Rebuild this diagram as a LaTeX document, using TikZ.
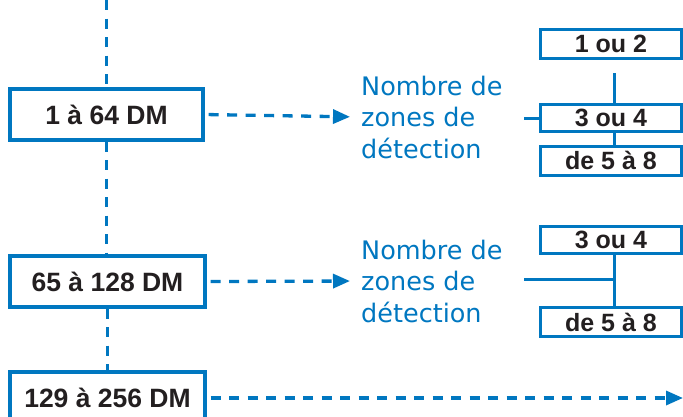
\documentclass[tikz,border=0pt]{standalone}
\usepackage{fontspec}
\setmainfont{Liberation Sans}
\newfontfamily\bluefont{DejaVu Sans}
\usetikzlibrary{arrows.meta}
\definecolor{cblue}{RGB}{0,119,192}
\definecolor{ink}{RGB}{35,31,32}
\tikzset{
  dmbox/.style={draw=cblue, line width=3.2pt, fill=white, minimum width=194pt, minimum height=51pt, inner sep=0pt, font=\fontsize{26.5}{30}\selectfont\bfseries, text=ink},
  zbox/.style={draw=cblue, line width=3pt, fill=white, minimum width=141pt, minimum height=28pt, inner sep=0pt, font=\fontsize{25}{28}\selectfont\bfseries, text=ink},
  dline/.style={draw=cblue, line width=3.3pt, dash pattern=on 10pt off 8.5pt},
  darrow/.style={dline, -{Triangle[length=17pt,width=14pt]}},
  sline/.style={draw=cblue, line width=3pt},
  lbl/.style={anchor=west, inner sep=0pt, align=left, text=cblue, font=\bluefont\fontsize{25.5}{31.5}\selectfont},
}
\begin{document}
\begin{tikzpicture}[x=1pt,y=-1pt]
\clip (0,0) rectangle (683,416);
\useasboundingbox (0,0) rectangle (683,416);

% left boxes
\node[dmbox, minimum width=193pt] (b1) at (106.5,114.5) {1 à 64 DM};
\node[dmbox, minimum width=195pt] (b2) at (107.5,281.5) {65 à 128 DM};
\node[dmbox, minimum width=195pt] (b3) at (107.5,397.5) {129 à 256 DM};
\coordinate (top) at (106.5,0);
\coordinate (end3) at (683,398);

\draw[dline] (top) -- (b1.north);
\draw[dline] (b1.south) -- (b2.north -| b1.south);
\draw[dline] (b2.south) -- (b3.north);

% labels
\node[lbl] (t1) at (361,117) {Nombre de\\zones de\\détection};
\node[lbl] (t2) at (361,281) {Nombre de\\zones de\\détection};

\draw[darrow, shorten <=4pt, shorten >=11pt] (b1.east) -- (t1.west);
\draw[darrow, shorten <=4pt, shorten >=11pt] (b2.east) -- (t2.west);
\draw[darrow, shorten <=4pt] (b3.east |- end3) -- (end3);

% group 1 zone boxes
\node[zbox, minimum height=29pt] (z12) at (611,43.5) {1 ou 2};
\node[zbox, minimum height=27pt] (z34a) at (611,117.5) {3 ou 4};
\node[zbox, minimum height=29pt] (z58a) at (611,160.5) {de 5 à 8};
\coordinate (v1) at (614,73);
\coordinate (h1) at (524,118);
\draw[sline] (v1) -- (v1 |- z34a.north);
\draw[sline] (z34a.south -| v1) -- (z58a.north -| v1);
\draw[sline] (h1) -- (z34a.west |- h1);

% group 2 zone boxes
\node[zbox, minimum height=27pt] (z34b) at (611,239.5) {3 ou 4};
\node[zbox, minimum height=29pt] (z58b) at (611,322) {de 5 à 8};
\coordinate (h2) at (524,279);
\coordinate (v2) at (614,279);
\draw[sline] (z34b.south -| v2) -- (z58b.north -| v2);
\draw[sline] (h2) -- (v2);
\end{tikzpicture}
\end{document}
